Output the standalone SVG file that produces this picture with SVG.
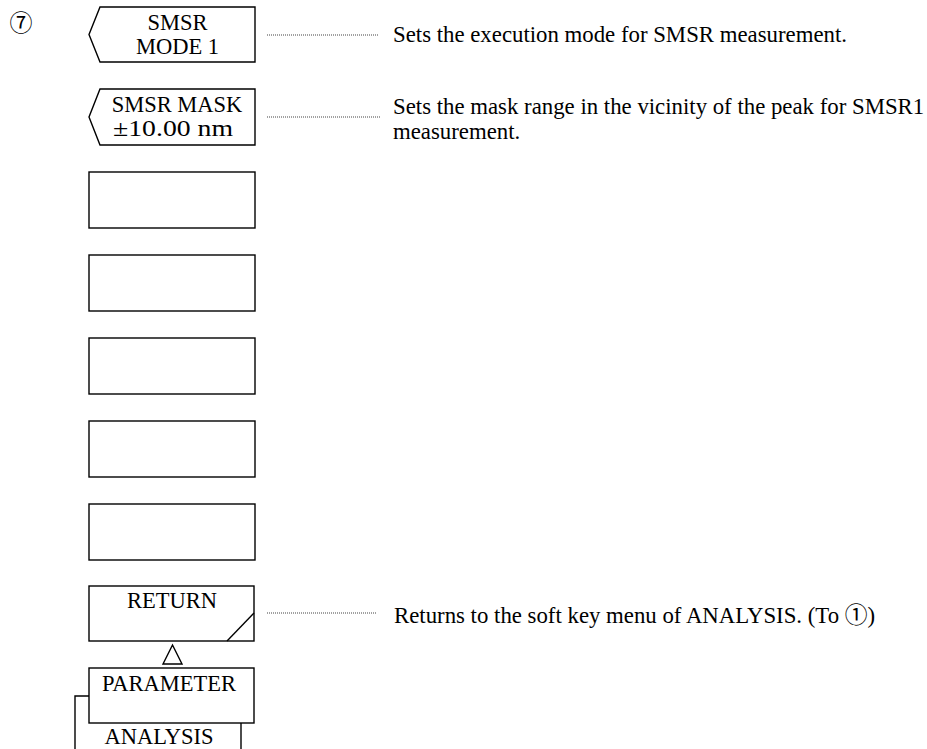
<svg xmlns="http://www.w3.org/2000/svg" width="927" height="749" viewBox="0 0 927 749">
<style>
.box{fill:#fff;stroke:#000;stroke-width:1.4}
.ln{fill:none;stroke:#000;stroke-width:1.4}
.dot{fill:none;stroke:#444;stroke-width:1.2;stroke-dasharray:1 1}
text{font-family:"Liberation Serif","Noto Sans CJK JP",serif;font-size:22.5px;fill:#000}
.d{font-size:22.8px}
.c{text-anchor:middle}
</style>
<rect width="927" height="749" fill="#fff"/>
<text id="num7" x="21" y="31" class="c" style="font-family:'DejaVu Serif','Noto Sans CJK JP',serif;font-size:23px">⑦</text>

<g id="connectors">
<line class="dot" x1="267" y1="35" x2="378" y2="35"/>
<line class="dot" x1="267" y1="117" x2="380" y2="117"/>
<line class="dot" x1="267" y1="613" x2="377" y2="613"/>
</g>

<g id="smsr-mode">
<path class="box" d="M100,7 H255 V62 H100 L89,34.5 Z"/>
<text x="177.5" y="30" class="c">SMSR</text>
<text x="177.5" y="54" class="c">MODE 1</text>
</g>
<g id="smsr-mask">
<path class="box" d="M100,89 H255 V145 H100 L89,117 Z"/>
<text x="177" y="112" class="c">SMSR MASK</text>
<text x="173" y="136" class="c" textLength="120" lengthAdjust="spacingAndGlyphs">±10.00 nm</text>
</g>
<g id="blank3"><rect class="box" x="89" y="172" width="166" height="56"/></g>
<g id="blank4"><rect class="box" x="89" y="255" width="166" height="56"/></g>
<g id="blank5"><rect class="box" x="89" y="338" width="166" height="56"/></g>
<g id="blank6"><rect class="box" x="89" y="421" width="166" height="56"/></g>
<g id="blank7"><rect class="box" x="89" y="504" width="166" height="56"/></g>
<g id="return">
<rect class="box" x="89" y="586" width="165" height="55"/>
<line class="ln" x1="227" y1="641" x2="254" y2="613"/>
<text x="172" y="608" class="c">RETURN</text>
</g>
<g id="triangle">
<path class="ln" d="M172.5,645 L182,664 H163 Z"/>
</g>
<g id="analysis">
<path class="ln" d="M89,696 H75 V749"/>
<path class="ln" d="M241,723 V749"/>
<text x="159" y="744" class="c">ANALYSIS</text>
</g>
<g id="parameter">
<rect class="box" x="89" y="668" width="165" height="55"/>
<text x="169" y="691" class="c">PARAMETER</text>
</g>

<g id="descriptions">
<text class="d" x="393" y="42">Sets the execution mode for SMSR measurement.</text>
<text class="d" x="393" y="114">Sets the mask range in the vicinity of the peak for SMSR1</text>
<text class="d" x="393" y="139">measurement.</text>
<text class="d" x="394" y="623">Returns to the soft key menu of ANALYSIS. (To ①)</text>
</g>
</svg>
